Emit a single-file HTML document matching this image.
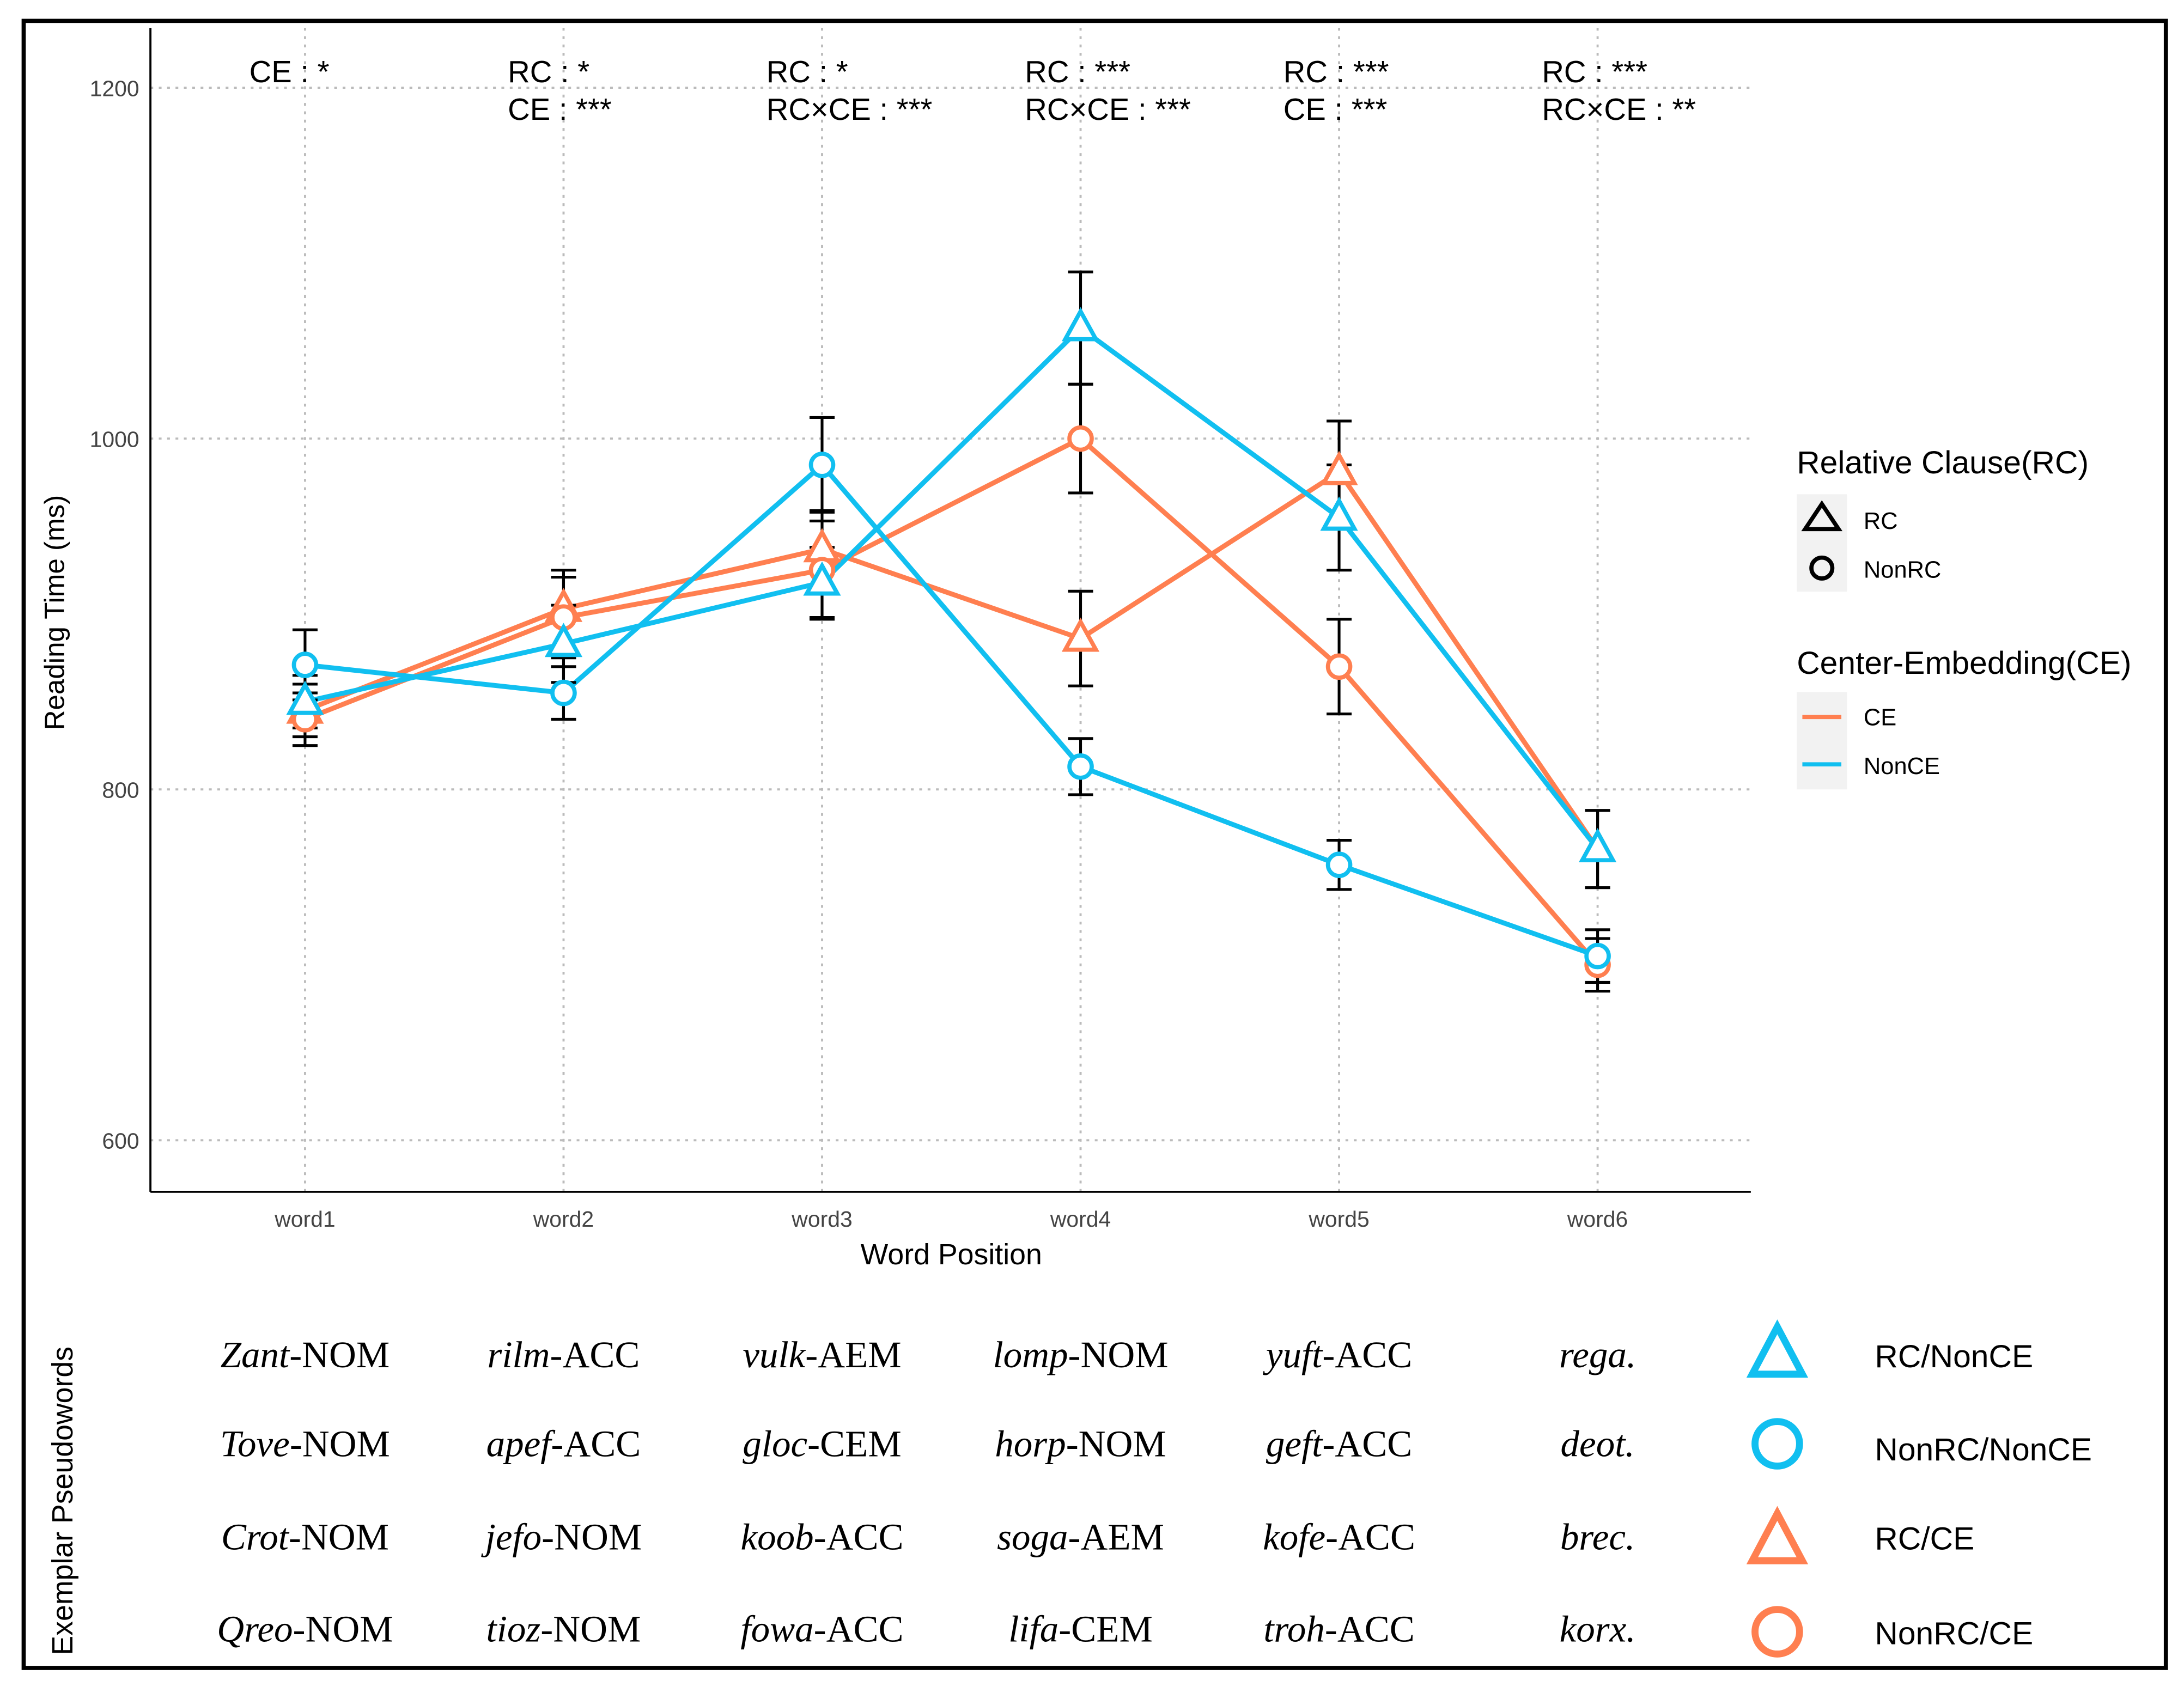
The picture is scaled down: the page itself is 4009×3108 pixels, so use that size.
<!DOCTYPE html>
<html><head><meta charset="utf-8"><style>
html,body{margin:0;padding:0;background:#fff}
svg{display:block}
text{font-family:"Liberation Sans",sans-serif}
.it{font-family:"Liberation Serif",serif;font-size:27px}
</style></head><body>
<svg id="chart" width="4009" height="3108" viewBox="0 0 1568 1216" preserveAspectRatio="none" xmlns="http://www.w3.org/2000/svg">
<rect x="17" y="15" width="1538" height="1183" fill="#fff" stroke="#000" stroke-width="3"/>
<g id="grid"></g>
<g id="marks"></g>
<line x1="108" y1="856" x2="1257" y2="856" stroke="#000" stroke-width="1.5"/>
<line x1="108" y1="20" x2="108" y2="856" stroke="#000" stroke-width="1.5"/>
<text x="683" y="908" font-size="21" text-anchor="middle">Word Position</text>
<text transform="translate(46,440) rotate(-90)" font-size="20" text-anchor="middle">Reading Time (ms)</text>
<g id="annot" font-size="22"></g>
<g>
<text x="1290" y="340" font-size="23">Relative Clause(RC)</text>
<rect x="1290" y="355" width="36" height="70" fill="#f2f2f2"/>
<path d="M1308 362 L1320 380 L1296 380 Z" fill="none" stroke="#000" stroke-width="3"/>
<circle cx="1308" cy="408" r="7.5" fill="none" stroke="#000" stroke-width="3"/>
<text x="1338" y="380" font-size="17">RC</text>
<text x="1338" y="415" font-size="17">NonRC</text>
<text x="1290" y="484" font-size="23">Center-Embedding(CE)</text>
<rect x="1290" y="497" width="36" height="70" fill="#f2f2f2"/>
<line x1="1294" y1="515" x2="1322" y2="515" stroke="#FF7F50" stroke-width="3"/>
<line x1="1294" y1="549" x2="1322" y2="549" stroke="#11BFF0" stroke-width="3"/>
<text x="1338" y="521" font-size="17">CE</text>
<text x="1338" y="556" font-size="17">NonCE</text>
</g>
<text transform="translate(52,1078) rotate(-90)" font-size="21" text-anchor="middle">Exemplar Pseudowords</text>
<g id="table"></g>
<g>
<path d="M1276 953 L1294 987 L1258 987 Z" fill="none" stroke="#11BFF0" stroke-width="5"/>
<circle cx="1276" cy="1037" r="16" fill="none" stroke="#11BFF0" stroke-width="5"/>
<path d="M1276 1087 L1294 1121 L1258 1121 Z" fill="none" stroke="#FF7F50" stroke-width="5"/>
<circle cx="1276" cy="1172" r="16" fill="none" stroke="#FF7F50" stroke-width="5"/>
<text x="1346" y="982" font-size="23">RC/NonCE</text>
<text x="1346" y="1049" font-size="23">NonRC/NonCE</text>
<text x="1346" y="1113" font-size="23">RC/CE</text>
<text x="1346" y="1181" font-size="23">NonRC/CE</text>
</g>
</svg>
<script>
const categories=["word1","word2","word3","word4","word5","word6"];
const yTicks=[600,800,1000,1200];
const rcNonce=[850,883,918,1063,955,766];
const rcNonceErr=[15,22,20,32,30,22];
const nonrcNonce=[871,855,985,813,757,705];
const nonrcNonceErr=[20,15,27,16,14,15];
const rcCe=[845,903,937,886,981,766];
const rcCeErr=[15,22,22,27,29,22];
const nonrcCe=[840,898,925,1000,870,700];
const nonrcCeErr=[15,23,28,31,27,15];
const annotations=[["CE : *",""],["RC : *","CE : ***"],["RC : *","RC×CE : ***"],["RC : ***","RC×CE : ***"],["RC : ***","CE : ***"],["RC : ***","RC×CE : **"]];
const table=[["Zant","-NOM","rilm","-ACC","vulk","-AEM","lomp","-NOM","yuft","-ACC","rega.",""],
["Tove","-NOM","apef","-ACC","gloc","-CEM","horp","-NOM","geft","-ACC","deot.",""],
["Crot","-NOM","jefo","-NOM","koob","-ACC","soga","-AEM","kofe","-ACC","brec.",""],
["Qreo","-NOM","tioz","-NOM","fowa","-ACC","lifa","-CEM","troh","-ACC","korx.",""]];
const NS="http://www.w3.org/2000/svg";
const X=i=>219+i*185.6;
const Y=v=>315-(v-1000)*1.26;
function mk(t,a,p){const e=document.createElementNS(NS,t);for(const k in a)e.setAttribute(k,a[k]);p.appendChild(e);return e;}
const grid=document.getElementById('grid'),marks=document.getElementById('marks');
yTicks.forEach(v=>{
 const l=mk('line',{x1:108,x2:1257,y1:Y(v),y2:Y(v),stroke:'#bbb','stroke-dasharray':'2,4','stroke-width':1.5},grid);
 
 
 const t=mk('text',{x:100,y:Y(v)+6,'font-size':16,fill:'#444','text-anchor':'end'},grid);t.textContent=v;
 
 
});
categories.forEach((c,i)=>{
 const l=mk('line',{x1:X(i),x2:X(i),y1:20,y2:856,stroke:'#bbb','stroke-dasharray':'2,4','stroke-width':1.5},grid);
 
 
 const t=mk('text',{x:X(i),y:881,'font-size':16,fill:'#444','text-anchor':'middle'},grid);t.textContent=c;
 
 
});
const series=[[rcCe,rcCeErr,'#FF7F50','tri','rc-ce'],[nonrcCe,nonrcCeErr,'#FF7F50','circ','nonrc-ce'],[rcNonce,rcNonceErr,'#11BFF0','tri','rc-nonce'],[nonrcNonce,nonrcNonceErr,'#11BFF0','circ','nonrc-nonce']];
series.forEach(s=>{
 const p=mk('polyline',{points:s[0].map((v,i)=>X(i)+','+Y(v)).join(' '),fill:'none',stroke:s[2],'stroke-width':3.5},marks);
 
 
});
series.forEach(s=>{
 s[0].forEach((v,i)=>{
  const x=X(i),e=s[1][i];
  const g=mk('path',{d:`M${x} ${Y(v+e)}V${Y(v-e)}M${x-9} ${Y(v+e)}H${x+9}M${x-9} ${Y(v-e)}H${x+9}`,stroke:'#000','stroke-width':2,fill:'none'},marks);
  
  
 });
});
series.forEach(s=>{
 s[0].forEach((v,i)=>{
  const x=X(i),y=Y(v);let m;
  if(s[3]=='tri')m=mk('path',{d:`M${x} ${y-12}L${x+11} ${y+8}L${x-11} ${y+8}Z`,fill:'#fff',stroke:s[2],'stroke-width':3},marks);
  else m=mk('circle',{cx:x,cy:y,r:8,fill:'#fff',stroke:s[2],'stroke-width':3},marks);
  
  
 });
});
const an=document.getElementById('annot');
annotations.forEach((a,i)=>{
 a.forEach((s,j)=>{if(!s)return;
  const t=mk('text',{x:X(i)-40,y:59+j*27},an);t.textContent=s;
  
  
 });
});
const tb=document.getElementById('table');
const rowsY=[982,1046,1113,1179];
table.forEach((r,ri)=>{
 for(let c=0;c<6;c++){
  const t=mk('text',{x:X(c),y:rowsY[ri],'text-anchor':'middle',class:'it'},tb);
  
  
  const a=mk('tspan',{'font-style':'italic'},t);a.textContent=r[c*2];
  if(r[c*2+1]){const b=mk('tspan',{},t);b.textContent=r[c*2+1];}
 }
});
</script>
</body></html>
